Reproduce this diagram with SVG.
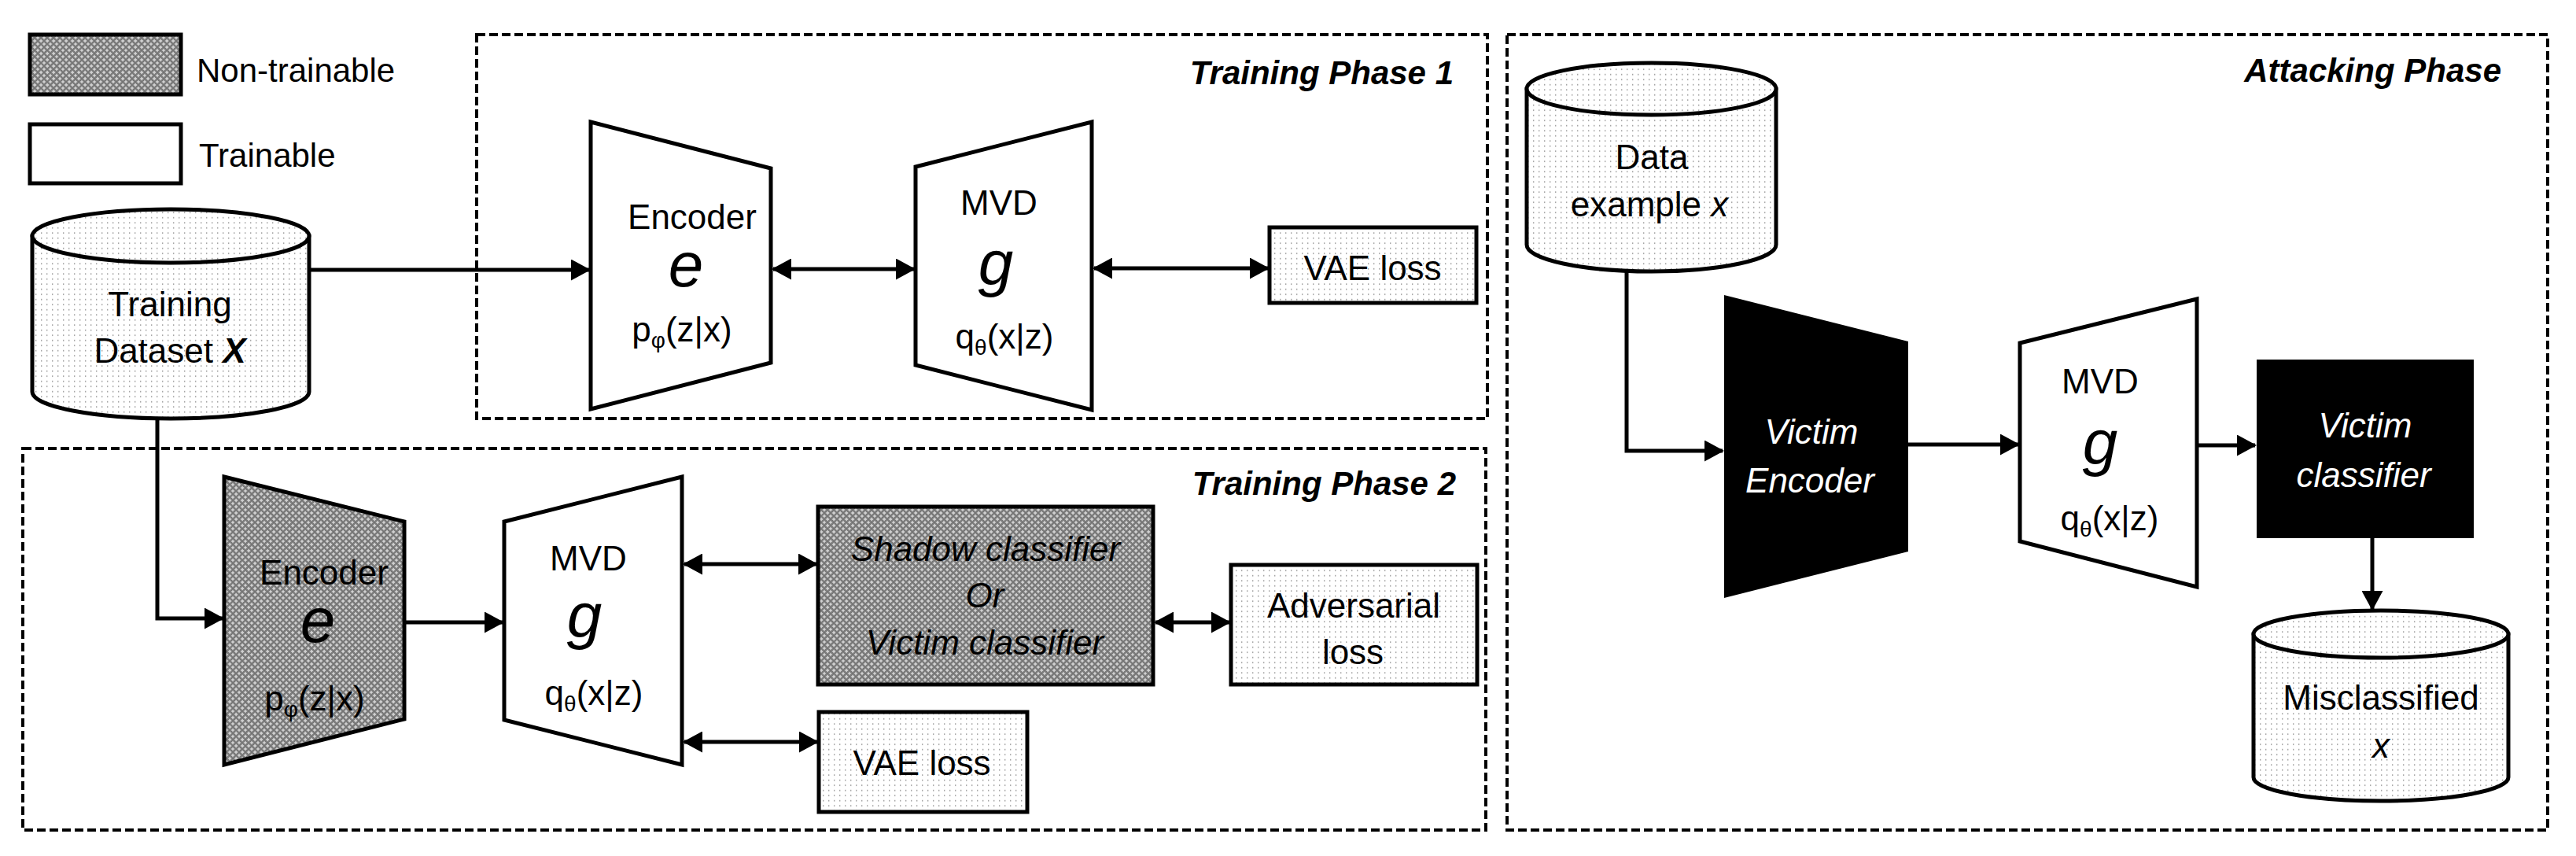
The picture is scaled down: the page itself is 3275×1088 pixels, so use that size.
<svg xmlns="http://www.w3.org/2000/svg" width="3275" height="1088" viewBox="0 0 3275 1088">
<style>
text{font-family:"Liberation Sans",Arial,sans-serif;font-size:44px;fill:#000}
.leg{font-size:42px}
.title{font-size:42px;font-weight:bold;font-style:italic}
.it{font-style:italic}
.big{font-size:80px;font-style:italic}
.wt{fill:#fff;font-style:italic}
.shape{stroke:#000;stroke-width:5;stroke-linejoin:miter}
.dash{fill:none;stroke:#000;stroke-width:4;stroke-dasharray:11 5}
.conn{fill:none;stroke:#000;stroke-width:5}
</style>
<defs>
<pattern id="dots" width="7" height="6.5" patternUnits="userSpaceOnUse">
<rect width="7" height="6.5" fill="#fff"/>
<rect x="3" y="3" width="1.4" height="1.4" fill="#8a8a8a"/>
</pattern>
<pattern id="hatch" width="8" height="8" patternUnits="userSpaceOnUse">
<rect width="8" height="8" fill="#cfcfcf"/>
<circle cx="4" cy="4" r="3.4" fill="none" stroke="#747474" stroke-width="1.2"/>
<circle cx="0" cy="0" r="3.4" fill="none" stroke="#747474" stroke-width="1.2"/>
<circle cx="8" cy="0" r="3.4" fill="none" stroke="#747474" stroke-width="1.2"/>
<circle cx="0" cy="8" r="3.4" fill="none" stroke="#747474" stroke-width="1.2"/>
<circle cx="8" cy="8" r="3.4" fill="none" stroke="#747474" stroke-width="1.2"/>
</pattern>
<marker id="ah" viewBox="0 0 25 27" refX="23" refY="13.5" markerWidth="25" markerHeight="27" markerUnits="userSpaceOnUse" orient="auto-start-reverse">
<path d="M0,0 L25,13.5 L0,27 Z" fill="#000"/>
</marker>
</defs>

<g id="legend">
<rect class="shape" x="38" y="44" width="192" height="76" fill="url(#hatch)"/>
<text class="leg" x="250" y="104">Non-trainable</text>
<rect class="shape" x="38" y="158" width="192" height="75" fill="#fff"/>
<text class="leg" x="253" y="212">Trainable</text>
</g>

<g id="phase1-box">
<rect class="dash" x="606" y="44" width="1285" height="488"/>
<text class="title" x="1848" y="107" text-anchor="end">Training Phase 1</text>
</g>
<g id="phase2-box">
<rect class="dash" x="29" y="570" width="1860" height="485"/>
<text class="title" x="1851" y="629" text-anchor="end">Training Phase 2</text>
</g>
<g id="attack-box">
<rect class="dash" x="1916" y="44" width="1323" height="1011"/>
<text class="title" x="3180" y="104" text-anchor="end">Attacking Phase</text>
</g>

<g id="connectors">
<path class="conn" d="M393,343 L749,343" marker-end="url(#ah)"/>
<path class="conn" d="M983,342 L1162,342" marker-start="url(#ah)" marker-end="url(#ah)"/>
<path class="conn" d="M1391,341 L1612,341" marker-start="url(#ah)" marker-end="url(#ah)"/>
<path class="conn" d="M200,532 L200,786 L283,786" marker-end="url(#ah)"/>
<path class="conn" d="M514,791 L639,791" marker-end="url(#ah)"/>
<path class="conn" d="M870,717 L1038,717" marker-start="url(#ah)" marker-end="url(#ah)"/>
<path class="conn" d="M870,943 L1039,943" marker-start="url(#ah)" marker-end="url(#ah)"/>
<path class="conn" d="M1469,791 L1563,791" marker-start="url(#ah)" marker-end="url(#ah)"/>
<path class="conn" d="M2068,345 L2068,573 L2190,573" marker-end="url(#ah)"/>
<path class="conn" d="M2426,565 L2566,565" marker-end="url(#ah)"/>
<path class="conn" d="M2793,566 L2867,566" marker-end="url(#ah)"/>
<path class="conn" d="M3016,684 L3016,774" marker-end="url(#ah)"/>
</g>

<g id="training-dataset">
<path class="shape" d="M41,300 L41,498 A176,34 0 0 0 393,498 L393,300 Z" fill="url(#dots)"/>
<ellipse class="shape" cx="217" cy="300" rx="176" ry="34" fill="url(#dots)"/>
<text x="216" y="402" text-anchor="middle">Training</text>
<text x="216" y="461" text-anchor="middle">Dataset <tspan font-weight="bold" font-style="italic">X</tspan></text>
</g>

<g id="encoder1">
<polygon class="shape" points="751,155 980,214 980,461 751,520" fill="#fff"/>
<text x="880" y="291" text-anchor="middle">Encoder</text>
<text class="big" x="872" y="364" text-anchor="middle">e</text>
<text x="867" y="434" text-anchor="middle">p<tspan font-size="28" dy="8">φ</tspan><tspan dy="-8">(z|x)</tspan></text>
</g>

<g id="mvd1">
<polygon class="shape" points="1164,212 1388,155 1388,521 1164,464" fill="#fff"/>
<text x="1270" y="273" text-anchor="middle">MVD</text>
<text class="big" x="1266" y="361" text-anchor="middle">g</text>
<text x="1277" y="443" text-anchor="middle">q<tspan font-size="28" dy="8">θ</tspan><tspan dy="-8">(x|z)</tspan></text>
</g>

<g id="vae-loss1">
<rect class="shape" x="1614" y="289" width="263" height="96" fill="url(#dots)"/>
<text x="1745" y="356" text-anchor="middle">VAE loss</text>
</g>

<g id="encoder2">
<polygon class="shape" points="285,606 514,663 514,914 285,972" fill="url(#hatch)"/>
<text x="412" y="743" text-anchor="middle">Encoder</text>
<text class="big" x="404" y="816" text-anchor="middle">e</text>
<text x="400" y="903" text-anchor="middle">p<tspan font-size="28" dy="8">φ</tspan><tspan dy="-8">(z|x)</tspan></text>
</g>

<g id="mvd2">
<polygon class="shape" points="641,663 867,606 867,972 641,915" fill="#fff"/>
<text x="748" y="725" text-anchor="middle">MVD</text>
<text class="big" x="743" y="809" text-anchor="middle">g</text>
<text x="755" y="896" text-anchor="middle">q<tspan font-size="28" dy="8">θ</tspan><tspan dy="-8">(x|z)</tspan></text>
</g>

<g id="classifier2">
<rect class="shape" x="1040" y="644" width="426" height="226" fill="url(#hatch)"/>
<text class="it" x="1253" y="713" text-anchor="middle">Shadow classifier</text>
<text class="it" x="1252" y="772" text-anchor="middle">Or</text>
<text class="it" x="1252" y="832" text-anchor="middle">Victim classifier</text>
</g>

<g id="adversarial-loss">
<rect class="shape" x="1565" y="718" width="313" height="152" fill="url(#dots)"/>
<text x="1721" y="785" text-anchor="middle">Adversarial</text>
<text x="1720" y="844" text-anchor="middle">loss</text>
</g>

<g id="vae-loss2">
<rect class="shape" x="1041" y="905" width="265" height="127" fill="url(#dots)"/>
<text x="1172" y="985" text-anchor="middle">VAE loss</text>
</g>

<g id="data-example">
<path class="shape" d="M1941,113 L1941,311 A158.5,34 0 0 0 2258,311 L2258,113 Z" fill="url(#dots)"/>
<ellipse class="shape" cx="2099.5" cy="113" rx="158.5" ry="33" fill="url(#dots)"/>
<text x="2100" y="215" text-anchor="middle">Data</text>
<text x="2097" y="275" text-anchor="middle">example <tspan font-style="italic">x</tspan></text>
</g>

<g id="victim-encoder">
<polygon points="2192,375 2426,434 2426,701 2192,760" fill="#000"/>
<text class="wt" x="2303" y="564" text-anchor="middle">Victim</text>
<text class="wt" x="2301" y="626" text-anchor="middle">Encoder</text>
</g>

<g id="mvd3">
<polygon class="shape" points="2568,436 2793,380 2793,746 2568,688" fill="#fff"/>
<text x="2670" y="500" text-anchor="middle">MVD</text>
<text class="big" x="2670" y="589" text-anchor="middle">g</text>
<text x="2682" y="674" text-anchor="middle">q<tspan font-size="28" dy="8">θ</tspan><tspan dy="-8">(x|z)</tspan></text>
</g>

<g id="victim-classifier">
<rect x="2869" y="457" width="276" height="227" fill="#000"/>
<text class="wt" x="3007" y="556" text-anchor="middle">Victim</text>
<text class="wt" x="3005" y="619" text-anchor="middle">classifier</text>
</g>

<g id="misclassified">
<path class="shape" d="M2865,806 L2865,988 A162,30 0 0 0 3189,988 L3189,806 Z" fill="url(#dots)"/>
<ellipse class="shape" cx="3027" cy="806" rx="162" ry="30" fill="url(#dots)"/>
<text x="3027" y="902" text-anchor="middle">Misclassified</text>
<text class="it" x="3027" y="963" text-anchor="middle">x</text>
</g>
</svg>
